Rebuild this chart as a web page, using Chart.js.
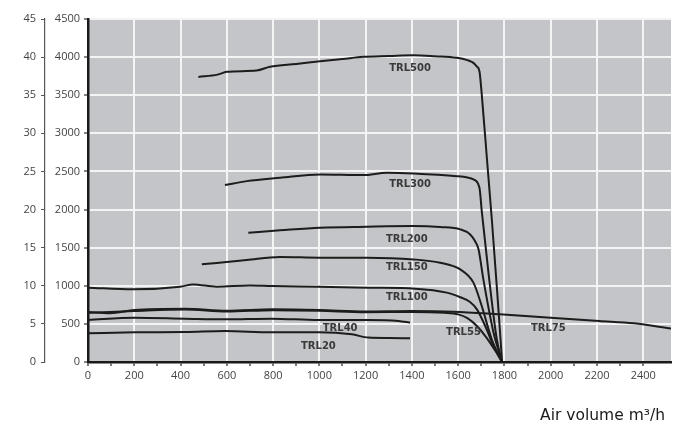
<!DOCTYPE html>
<html>
<head>
<meta charset="utf-8">
<script src="https://cdn.jsdelivr.net/npm/chart.js@4/dist/chart.umd.min.js"></script>
<style>
html,body{margin:0;padding:0;background:#fff;}
#wrap{width:679px;height:430px;position:relative;}
</style>
</head>
<body>
<div id="wrap"><canvas id="c"></canvas></div>
<script>
// ---- data (air volume m3/h vs pressure) ----
const trl500X = [477,560,600,729,787,900,1003,1100,1190,1300,1407,1500,1594,1640,1666,1680,1692,1702,1724,1746,1768,1790];
const trl500Y = [3740,3770,3807,3824,3873,3910,3946,3975,4004,4015,4025,4012,3991,3960,3925,3880,3815,3510,2680,1850,950,0];
const trl300X = [592,686,830,1003,1190,1291,1407,1594,1640,1666,1692,1702,1731,1767,1790];
const trl300Y = [2321,2373,2417,2461,2452,2483,2474,2438,2420,2395,2286,1980,1172,298,0];
const trl200X = [693,830,1003,1205,1407,1522,1609,1652,1672,1688,1709,1753,1790];
const trl200Y = [1696,1727,1762,1775,1783,1770,1740,1674,1590,1478,1084,385,0];
const trl150X = [492,686,830,1003,1205,1407,1522,1609,1666,1702,1745,1790];
const trl150Y = [1281,1337,1377,1369,1369,1346,1303,1215,1041,734,298,0];
const trl100X = [0,196,398,455,556,700,794,996,1212,1414,1551,1609,1650,1681,1717,1753,1790];
const trl100Y = [975,953,988,1018,988,1005,997,988,975,962,910,850,790,691,472,210,0];
const trl75X  = [0,95,200,420,600,800,1000,1200,1400,1580,1780,2000,2210,2360,2520];
const trl75Y  = [655,640,682,700,672,691,682,662,669,660,625,582,538,507,440];
const trl55X  = [0,200,420,600,800,1000,1200,1400,1540,1600,1640,1681,1720,1760,1790];
const trl55Y  = [645,670,690,662,680,672,652,657,645,625,575,472,330,150,0];
const trl40X  = [0,203,419,592,794,996,1212,1342,1392];
const trl40Y  = [551,582,569,560,569,551,551,538,516];
const trl20X  = [0,203,419,592,794,996,1140,1212,1300,1392];
const trl20Y  = [376,389,393,406,389,389,363,320,315,311];

const curveNames = ['TRL500','TRL300','TRL200','TRL150','TRL100','TRL75','TRL55','TRL40','TRL20'];
const labelX = [1392,1392,1378,1378,1378,1990,1623,1090,996];
const labelY = [3850,2330,1609,1245,844,438,385,438,210];

const xMin = 0, xMax = 2520, xStep = 100, xLabelStep = 200;
const yMin = 0, yMax = 4500, yStep = 500;
const y2Min = 0, y2Max = 45, y2Step = 5;
const axisTitle = 'Air volume m³/h';

const seriesX = [trl500X,trl300X,trl200X,trl150X,trl100X,trl75X,trl55X,trl40X,trl20X];
const seriesY = [trl500Y,trl300Y,trl200Y,trl150Y,trl100Y,trl75Y,trl55Y,trl40Y,trl20Y];

const datasets = curveNames.map((n,i)=>({
  label:n,
  data: seriesX[i].map((x,j)=>({x:x,y:seriesY[i][j]})),
  borderColor:'#1c1c1c',
  borderWidth:2,
  pointRadius:0,
  fill:false,
  cubicInterpolationMode:'monotone',
  yAxisID:'y'
}));

const bgPlugin = {
  id:'bg',
  beforeDraw(chart){
    const {ctx, chartArea:a} = chart;
    ctx.save();
    ctx.fillStyle = '#c4c5c8';
    ctx.fillRect(a.left, a.top, a.right-a.left, a.bottom-a.top);
    ctx.restore();
  },
  afterDatasetsDraw(chart){
    const {ctx} = chart;
    const xs = chart.scales.x, ys = chart.scales.y;
    ctx.save();
    ctx.font = 'bold 10px "DejaVu Sans"';
    ctx.fillStyle = '#3a3a3a';
    ctx.textAlign = 'center';
    ctx.textBaseline = 'middle';
    curveNames.forEach((n,i)=>{
      ctx.fillText(n, xs.getPixelForValue(labelX[i]), ys.getPixelForValue(labelY[i]));
    });
    ctx.font = '15.5px "DejaVu Sans"';
    ctx.fillStyle = '#1a1a1a';
    ctx.textAlign = 'right';
    ctx.fillText(axisTitle, 665, 416);
    ctx.restore();
  }
};

const tickFont = {family:'"Open Sans"', size:11};
const plain = (v)=> String(v);

new Chart(document.getElementById('c'), {
  type:'line',
  data:{datasets},
  options:{
    responsive:true,
    maintainAspectRatio:false,
    animation:false,
    layout:{padding:{top:19,right:8,left:0,bottom:0}},
    plugins:{legend:{display:false}, tooltip:{enabled:false}},
    scales:{
      x:{
        type:'linear', min:xMin, max:xMax,
        afterBuildTicks(s){ s.ticks = s.ticks.filter(t=>t.value % xStep === 0); },
        afterFit(s){ s.height = 68; },
        ticks:{stepSize:xStep, autoSkip:false, maxRotation:0, padding:3, color:'#444', font:tickFont,
          callback:(v)=> (v % xLabelStep === 0 ? String(v) : '')},
        grid:{color:(c)=> (c.tick && c.tick.value % xLabelStep === 0 && c.tick.value>0 ? '#f4f4f4' : 'rgba(0,0,0,0)'),
          lineWidth:2, tickColor:'#222', tickLength:4, tickWidth:1.2},
        border:{color:'#1a1a1a', width:2.5}
      },
      y:{
        type:'linear', position:'left', min:yMin, max:yMax, weight:0,
        afterFit(s){ s.width = 43; },
        ticks:{stepSize:yStep, padding:4, color:'#444', font:tickFont, callback:plain},
        grid:{color:(c)=> (c.tick && c.tick.value>0 ? '#f4f4f4' : 'rgba(0,0,0,0)'), lineWidth:2,
          tickColor:'#333', tickLength:4, tickWidth:1.2},
        border:{color:'#1a1a1a', width:2.5}
      },
      y2:{
        type:'linear', position:'left', min:y2Min, max:y2Max, weight:1,
        afterFit(s){ s.width = 45; },
        ticks:{stepSize:y2Step, padding:5, color:'#444', font:tickFont, callback:plain},
        grid:{drawOnChartArea:false, tickColor:'#555', tickLength:4, tickWidth:1},
        border:{color:'#555', width:1.2}
      }
    }
  },
  plugins:[bgPlugin]
});
</script>
</body>
</html>
